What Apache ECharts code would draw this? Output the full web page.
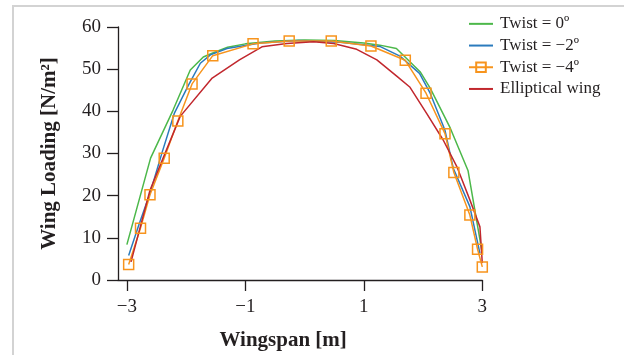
<!DOCTYPE html>
<html>
<head>
<meta charset="utf-8">
<script src="https://cdn.jsdelivr.net/npm/echarts@6/dist/echarts.min.js"></script>
<style>html,body{margin:0;padding:0;background:#fff;}#c{width:624px;height:355px;}</style>
</head>
<body>
<div id="c"></div>
<script>
var seriesNames = ['Twist = 0º', 'Twist = −2º', 'Twist = −4º', 'Elliptical wing'];
var xTicks = [-3, -1, 1, 3];

var xTwist0 = [-3.0, -2.6, -2.22, -1.93, -1.71, -1.54, -1.3, -1.0, -0.5, 0.0, 0.5, 1.0, 1.27, 1.55, 1.95, 2.12, 2.46, 2.76, 3.0];
var yTwist0 = [8.4, 28.9, 40.3, 49.8, 52.9, 53.9, 55.2, 56.0, 56.7, 56.9, 56.8, 56.2, 55.7, 54.9, 49.4, 45.5, 36.0, 25.9, 6.3];

var xTwist2 = [-2.97, -2.80, -2.61, -2.40, -2.20, -1.96, -1.76, -1.59, -1.31, -0.75, -0.1, 0.6, 1.27, 1.61, 1.94, 2.12, 2.37, 2.51, 2.79, 2.96];
var yTwist2 = [5.8, 13.0, 20.6, 30.5, 39.5, 46.2, 51.4, 53.4, 54.9, 56.2, 56.8, 56.4, 55.4, 53.1, 49.0, 44.3, 35.5, 26.5, 17.4, 6.3];

var xTwist4 = [-2.97, -2.77, -2.61, -2.37, -2.14, -1.90, -1.55, -0.87, -0.26, 0.45, 1.12, 1.70, 2.05, 2.37, 2.52, 2.79, 2.92, 3.0];
var yTwist4 = [3.7, 12.3, 20.2, 28.9, 37.7, 46.5, 53.2, 56.0, 56.7, 56.7, 55.5, 52.1, 44.3, 34.7, 25.5, 15.4, 7.3, 3.1];

var xEllip = [-2.93, -2.61, -2.38, -2.10, -1.56, -1.10, -0.72, -0.30, 0.15, 0.49, 0.88, 1.22, 1.56, 1.78, 2.06, 2.34, 2.57, 2.79, 2.96, 3.0];
var yEllip = [4.3, 21.3, 29.2, 38.8, 47.9, 52.2, 55.3, 56.1, 56.5, 56.1, 54.7, 52.2, 48.3, 45.7, 39.5, 33.2, 26.9, 19.0, 12.6, 4.0];

function zip(xs, ys) { return xs.map(function (x, i) { return [x, ys[i]]; }); }

var colors = ['#4cb84a', '#2b7bbd', '#f7941d', '#c1272d'];
var serif = 'Liberation Serif, Times New Roman, serif';
var ink = '#231f20';

var chart = echarts.init(document.getElementById('c'));
function lineSeries(name, data, color) {
  return {
    name: name, type: 'line', data: data, symbol: 'none', smooth: false,
    lineStyle: { color: color, width: 1.5 }, itemStyle: { color: color }
  };
}
var s4 = {
  name: seriesNames[2], type: 'line', data: zip(xTwist4, yTwist4),
  symbol: 'rect', symbolSize: 10,
  lineStyle: { color: colors[2], width: 1.5 },
  itemStyle: { color: 'rgba(255,255,255,0)', borderColor: colors[2], borderWidth: 1.5 }
};
chart.setOption({
  animation: false,
  backgroundColor: '#fff',
  graphic: [{
    type: 'rect', shape: { x: 13, y: 6, width: 800, height: 600 },
    style: { fill: 'none', stroke: '#d3d3d3', lineWidth: 2 }, silent: true, z: -10
  }],
  grid: { left: 118, right: 141.7, top: 27, bottom: 75, outerBoundsMode: 'none', containLabel: false },
  legend: {
    left: 468, top: 13, orient: 'vertical', itemGap: 0, padding: 0,
    itemWidth: 24, itemHeight: 12,
    textStyle: { fontFamily: serif, fontSize: 17, color: ink, lineHeight: 21.7, padding: [0, 0, 0, 2] },
    data: [
      { name: seriesNames[0], itemStyle: { opacity: 0 } },
      { name: seriesNames[1], itemStyle: { opacity: 0 } },
      { name: seriesNames[2] },
      { name: seriesNames[3], itemStyle: { opacity: 0 } }
    ]
  },
  xAxis: {
    type: 'value', min: -3.15, max: 3,
    name: 'Wingspan [m]', nameLocation: 'middle', nameGap: 50, nameMoveOverlap: false,
    nameTextStyle: { fontFamily: serif, fontSize: 21, fontWeight: 'bold', color: ink, padding: [0, 34, 0, 0] },
    axisLine: { onZero: false, lineStyle: { color: ink, width: 1.3 } },
    axisTick: { show: true, inside: false, length: 11, customValues: xTicks, lineStyle: { color: ink, width: 1.3 } },
    axisLabel: {
      customValues: xTicks, margin: 18, fontFamily: serif, fontSize: 19, color: ink,
      formatter: function (v) { return v < 0 ? '−' + Math.abs(v) : String(v); }
    },
    splitLine: { show: false }
  },
  yAxis: {
    type: 'value', min: 0, max: 60, interval: 10,
    name: 'Wing Loading [N/m²]', nameLocation: 'middle', nameGap: 58, nameMoveOverlap: false,
    nameTextStyle: { fontFamily: serif, fontSize: 21, fontWeight: 'bold', color: ink },
    axisLine: { show: true, onZero: false, lineStyle: { color: ink, width: 1.3 } },
    axisTick: { show: true, inside: false, length: 11, lineStyle: { color: ink, width: 1.3 } },
    axisLabel: { margin: 17, fontFamily: serif, fontSize: 19, color: ink },
    splitLine: { show: false }
  },
  series: [
    lineSeries(seriesNames[0], zip(xTwist0, yTwist0), colors[0]),
    lineSeries(seriesNames[1], zip(xTwist2, yTwist2), colors[1]),
    s4,
    lineSeries(seriesNames[3], zip(xEllip, yEllip), colors[3])
  ]
});
</script>
</body>
</html>
